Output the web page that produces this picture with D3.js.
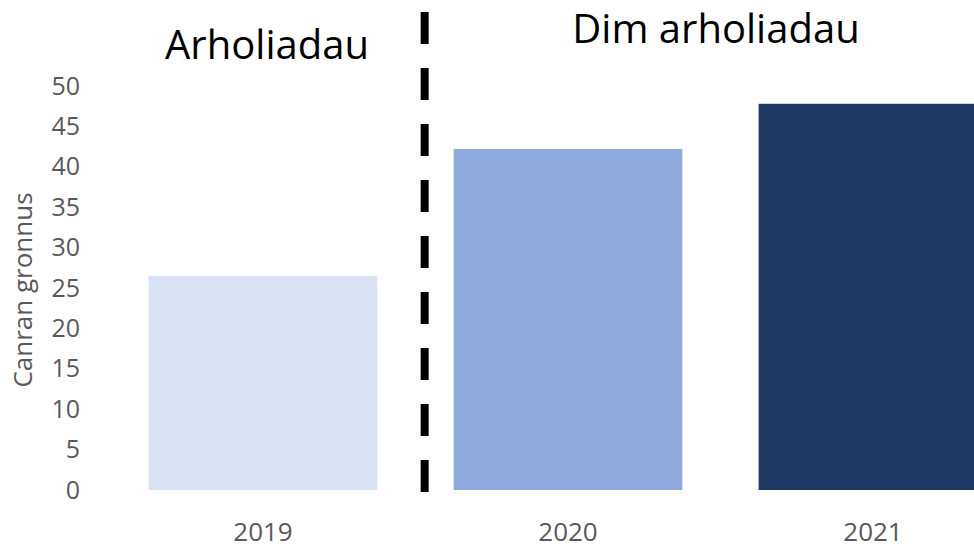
<!DOCTYPE html>
<html>
<head>
<meta charset="utf-8">
<script src="https://cdn.jsdelivr.net/npm/d3@7"></script>
<style>
  html, body { margin: 0; padding: 0; background: #fff; }
  svg { display: block; font-family: "Open Sans", "Noto Sans", sans-serif; }
</style>
</head>
<body>
<svg id="chart" width="974" height="549"></svg>
<script>
const categories = ["2019", "2020", "2021"];
const values = [26.5, 42.2, 47.8];
const colors = ["#DAE3F3", "#8FAADC", "#203864"];
const yTicks = [0, 5, 10, 15, 20, 25, 30, 35, 40, 45, 50];
const groupLabels = ["Arholiadau", "Dim arholiadau"];
const yTitle = "Canran gronnus";

const svg = d3.select("#chart");

const x = d3.scaleBand().domain(categories).range([110.5, 1025.5])
  .paddingInner(0.25).paddingOuter(0.125);
const y = d3.scaleLinear().domain([0, 50]).range([490, 86]);

// bars
svg.append("g").selectAll("rect").data(categories).join("rect")
  .attr("x", d => x(d))
  .attr("width", x.bandwidth())
  .attr("y", (d, i) => y(values[i]))
  .attr("height", (d, i) => y(0) - y(values[i]))
  .attr("fill", (d, i) => colors[i]);

// y axis
const yAxis = d3.axisLeft(y).tickValues(yTicks).tickSize(0).tickPadding(0);
const gy = svg.append("g").attr("transform", "translate(80,0)").call(yAxis);
gy.select(".domain").remove();
gy.selectAll("text").attr("font-size", 25).attr("fill", "#595959")
  .attr("font-family", "'Open Sans', sans-serif");

// x axis
const xAxis = d3.axisBottom(x).tickSize(0).tickPadding(0);
const gx = svg.append("g").attr("transform", "translate(0,523)").call(xAxis);
gx.select(".domain").remove();
gx.selectAll("text").attr("font-size", 26).attr("fill", "#595959")
  .attr("font-family", "'Open Sans', sans-serif");

// y title
svg.append("text")
  .attr("transform", "translate(32,290) rotate(-90)")
  .attr("text-anchor", "middle")
  .attr("font-size", 26).attr("fill", "#595959")
  .text(yTitle);

// divider
const divX = x("2019") + x.bandwidth() + (x.step() - x.bandwidth()) * 0.62;
svg.append("line")
  .attr("x1", divX).attr("x2", divX)
  .attr("y1", 12).attr("y2", 492)
  .attr("stroke", "#000").attr("stroke-width", 8)
  .attr("stroke-dasharray", "32 24");

// group labels
svg.append("text").attr("x", 267).attr("y", 59)
  .attr("text-anchor", "middle").attr("font-size", 40).attr("fill", "#000")
  .text(groupLabels[0]);
svg.append("text").attr("x", 716).attr("y", 43)
  .attr("text-anchor", "middle").attr("font-size", 40).attr("fill", "#000")
  .text(groupLabels[1]);
</script>
</body>
</html>
